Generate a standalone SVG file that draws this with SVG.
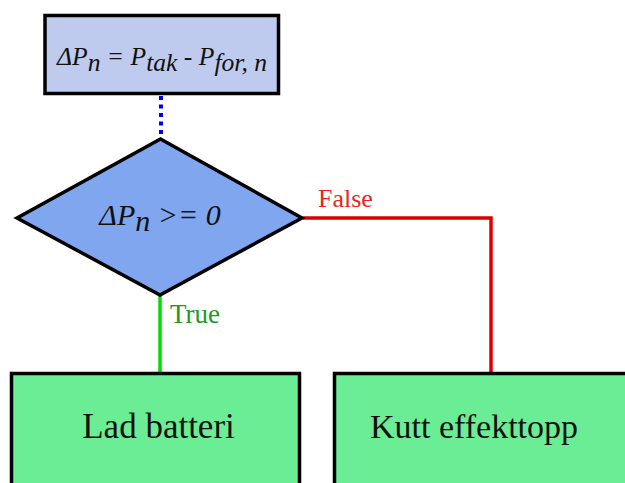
<svg xmlns="http://www.w3.org/2000/svg" width="625" height="483" viewBox="0 0 625 483">
<style>
.node{stroke:#000;stroke-width:3.5}
.t{font-family:"Liberation Serif","DejaVu Serif",serif;fill:#111}
.i{font-style:italic}
</style>
<rect width="625" height="483" fill="#fff"/>
<g id="connectors" fill="none">
<line x1="161" y1="96" x2="161" y2="138" stroke="#0000ee" stroke-width="4" stroke-dasharray="4,4.5"/>
<line x1="160" y1="296" x2="160" y2="373" stroke="#00dd00" stroke-width="3.5"/>
<polyline points="303,218 491,218 491,373" stroke="#dd0000" stroke-width="3.5"/>
<text x="318" y="207" class="t" font-size="26" style="fill:#ee2222">False</text>
<text x="170" y="323" class="t" font-size="27" style="fill:#229922">True</text>
</g>
<g id="n1">
<rect x="45" y="15.5" width="233.5" height="78" class="node" fill="#bfcbee"/>
<text x="162" y="65" class="t i" font-size="26" text-anchor="middle" textLength="210" lengthAdjust="spacingAndGlyphs">ΔP<tspan dy="6">n</tspan><tspan dy="-6"> = P</tspan><tspan dy="6">tak</tspan><tspan dy="-6"> - P</tspan><tspan dy="6">for, n</tspan></text>
</g>
<g id="n2">
<polygon points="160.5,139 302,218 160,295 17,218" class="node" fill="#7fa6ee" stroke-linejoin="miter"/>
<text x="160" y="225" class="t i" font-size="30" text-anchor="middle">ΔP<tspan dy="6">n</tspan><tspan dy="-6"> &gt;= 0</tspan></text>
</g>
<g id="n3">
<rect x="11.5" y="373.5" width="288" height="130" class="node" fill="#6aed94"/>
<text x="158.5" y="438" class="t" font-size="35" text-anchor="middle">Lad batteri</text>
</g>
<g id="n4">
<rect x="334.5" y="373.5" width="310" height="130" class="node" fill="#6aed94"/>
<text x="474" y="438" class="t" font-size="34" text-anchor="middle">Kutt effekttopp</text>
</g>
</svg>
